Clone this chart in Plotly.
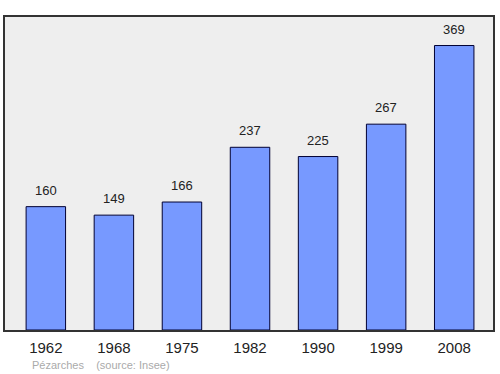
import plotly.graph_objects as go

years = ["1962", "1968", "1975", "1982", "1990", "1999", "2008"]
population = [160, 149, 166, 237, 225, 267, 369]
positions = list(range(len(years)))

fig = go.Figure()
fig.add_trace(go.Bar(
    x=positions, y=population, width=0.58,
    marker=dict(color="#7799ff", line=dict(color="#000033", width=1)),
    hoverinfo="skip",
))
for x, v in zip(positions, population):
    fig.add_annotation(x=x, y=v, text=str(v), showarrow=False, yanchor="bottom",
                       yshift=7, font=dict(size=13, color="#222222", family="Liberation Sans, Arial"))

fig.add_annotation(xref="paper", yref="paper", x=0.052, y=-0.085, xanchor="left", yanchor="top",
                   text="Pézarches&nbsp;&nbsp;&nbsp;&nbsp;(source: Insee)", showarrow=False,
                   font=dict(size=11, color="#aaaaaa", family="Liberation Sans, Arial"))

fig.update_layout(
    width=500, height=374,
    margin=dict(l=5, r=5, t=17, b=44),
    paper_bgcolor="white", plot_bgcolor="#eeeeee",
    showlegend=False,
    xaxis=dict(range=[-0.6, 6.57], tickvals=positions, ticktext=years, showgrid=False,
               zeroline=False, showline=True, mirror=True, linecolor="#333333", linewidth=1.5,
               ticks="", ticklabelstandoff=3,
               tickfont=dict(size=15, color="#222222", family="Liberation Sans, Arial")),
    yaxis=dict(range=[0, 406], showticklabels=False, showgrid=False, zeroline=False,
               showline=True, mirror=True, linecolor="#333333", linewidth=1.5, ticks=""),
)
fig.write_html("out.html")
